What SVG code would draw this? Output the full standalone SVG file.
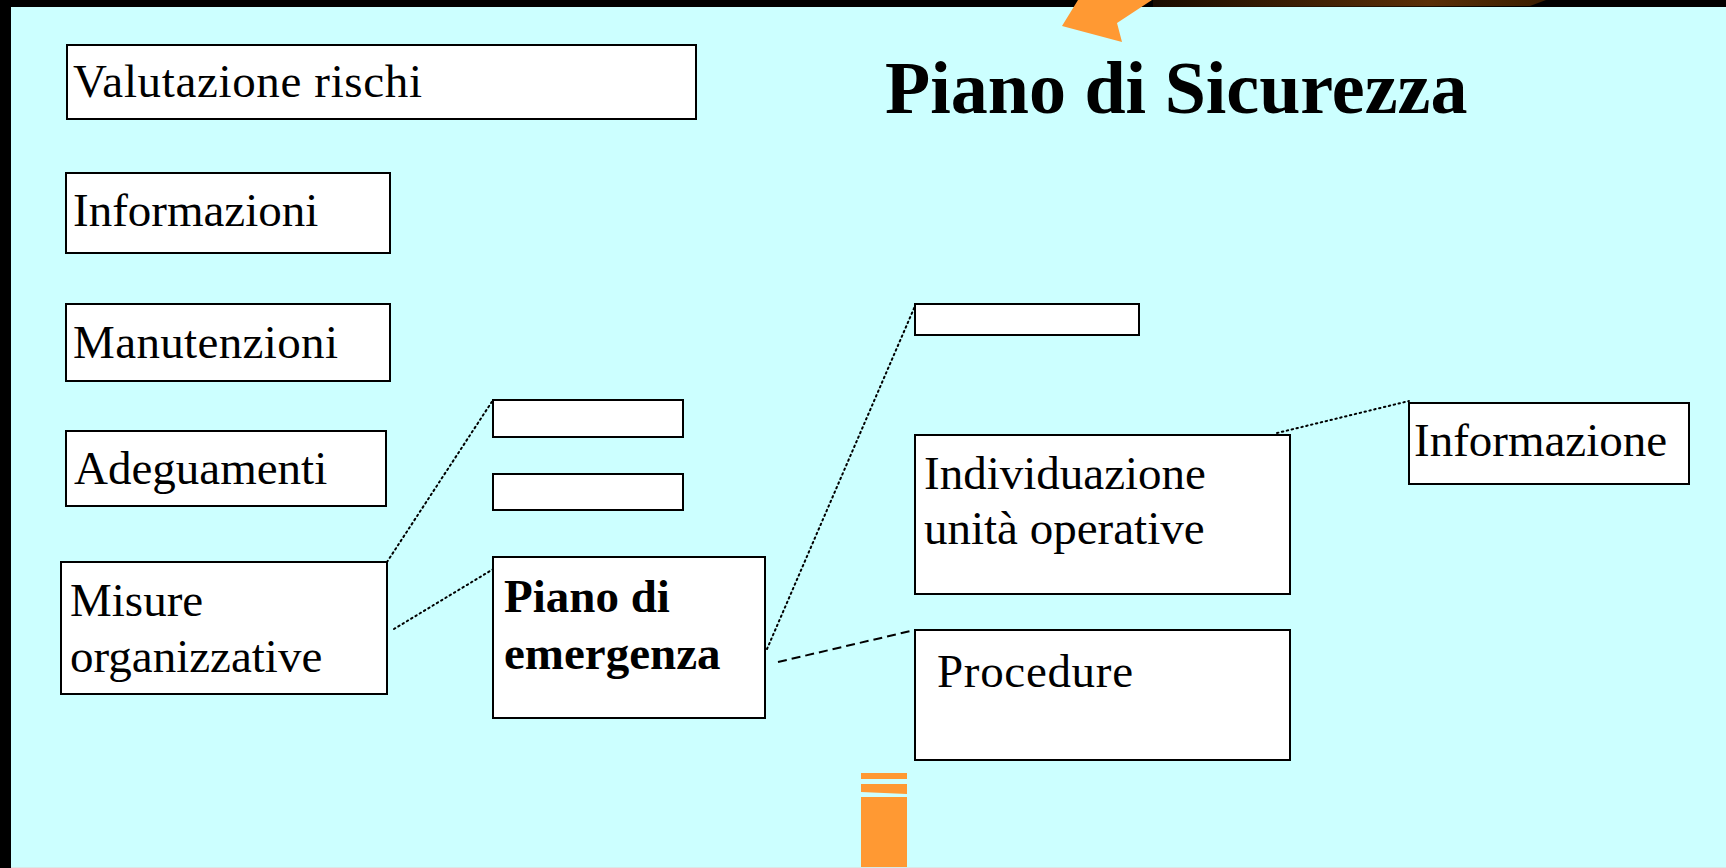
<svg xmlns="http://www.w3.org/2000/svg" width="1726" height="868" viewBox="0 0 1726 868">
<defs>
<style>
.box{fill:#ffffff;stroke:#000000;stroke-width:2}
.t{font-family:"Liberation Serif","Times New Roman",serif;font-size:47px;fill:#000}
.b{font-weight:bold}
.dot{fill:none;stroke:#000;stroke-width:2;stroke-dasharray:1.5 3.5;stroke-linecap:round}
.dash{fill:none;stroke:#000;stroke-width:2;stroke-dasharray:9 5}
.or{fill:#ff9933}
</style>
<linearGradient id="brown" x1="0" y1="0" x2="1" y2="0">
<stop offset="0" stop-color="#1a0c00"/>
<stop offset="0.7" stop-color="#5a2f08"/>
<stop offset="1" stop-color="#3a1e00"/>
</linearGradient>
</defs>
<rect x="0" y="0" width="1726" height="868" fill="#ccffff"/>
<rect x="0" y="0" width="1726" height="7" fill="#000"/>
<rect x="0" y="0" width="11" height="868" fill="#000"/>
<polygon points="1153,0 1546,0 1530,6 1153,7" fill="url(#brown)"/>
<line x1="11" y1="867.5" x2="1726" y2="867.5" stroke="#d8e8e8" stroke-width="1"/>
<polygon class="or" points="1078,0 1152,0 1117,23 1122,42 1062,26"/>
<text class="t b" x="885" y="113" style="font-size:74px">Piano di Sicurezza</text>

<g id="connectors">
<line class="dot" x1="387" y1="562" x2="493" y2="400"/>
<line class="dot" x1="394" y1="629" x2="500" y2="565"/>
<line class="dot" x1="767" y1="649" x2="915" y2="306"/>
<line class="dot" x1="1277" y1="433" x2="1409" y2="401"/>
<line class="dash" x1="778" y1="662" x2="915" y2="630"/>
</g>

<g id="valutazione"><rect class="box" x="67" y="45" width="629" height="74"/><text class="t" x="73" y="97" textLength="349">Valutazione rischi</text></g>
<g id="informazioni"><rect class="box" x="66" y="173" width="324" height="80"/><text class="t" x="73" y="226">Informazioni</text></g>
<g id="manutenzioni"><rect class="box" x="66" y="304" width="324" height="77"/><text class="t" x="73" y="358" textLength="265">Manutenzioni</text></g>
<g id="adeguamenti"><rect class="box" x="66" y="431" width="320" height="75"/><text class="t" x="74" y="484">Adeguamenti</text></g>
<g id="misure"><rect class="box" x="61" y="562" width="326" height="132"/><text class="t" x="70" y="616">Misure</text><text class="t" x="70" y="672">organizzative</text></g>
<g id="small1"><rect class="box" x="493" y="400" width="190" height="37"/></g>
<g id="small2"><rect class="box" x="493" y="474" width="190" height="36"/></g>
<g id="piano-emergenza"><rect class="box" x="493" y="557" width="272" height="161"/><text class="t b" x="504" y="612">Piano di</text><text class="t b" x="504" y="669">emergenza</text></g>
<g id="small3"><rect class="box" x="915" y="304" width="224" height="31"/></g>
<g id="individuazione"><rect class="box" x="915" y="435" width="375" height="159"/><text class="t" x="924" y="489">Individuazione</text><text class="t" x="924" y="544">unità operative</text></g>
<g id="procedure"><rect class="box" x="915" y="630" width="375" height="130"/><text class="t" x="937" y="687" textLength="196">Procedure</text></g>
<g id="informazione"><rect class="box" x="1409" y="403" width="280" height="81"/><text class="t" x="1414" y="456">Informazione</text></g>

<rect class="or" x="861" y="773" width="46" height="6"/>
<polygon class="or" points="861,784 907,784 907,794 861,792"/>
<rect class="or" x="861" y="797" width="46" height="70"/>
</svg>
